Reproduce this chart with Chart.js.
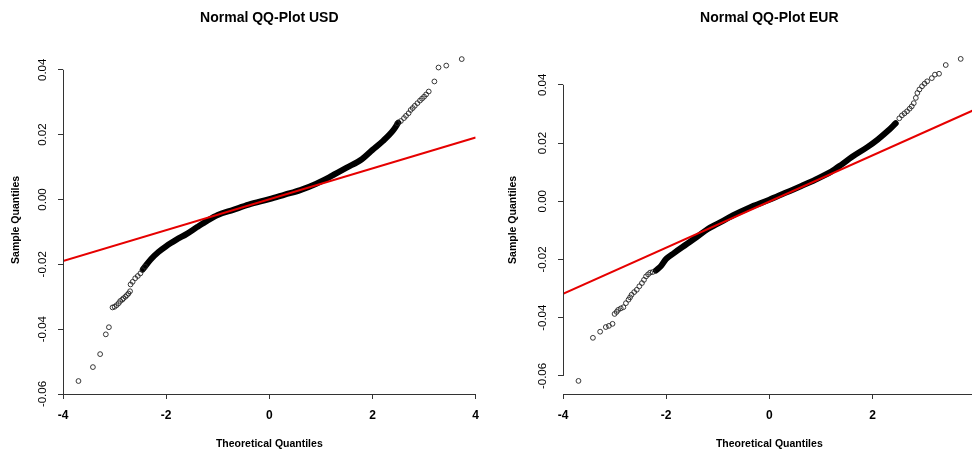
<!DOCTYPE html>
<html>
<head>
<meta charset="utf-8">
<title>Normal QQ-Plots</title>
<script src="https://cdn.jsdelivr.net/npm/chart.js@4.4.1/dist/chart.umd.min.js"></script>
<style>
  html, body { margin: 0; padding: 0; background: #fff; overflow: hidden; }
  #wrap { position: relative; width: 972px; height: 450px; overflow: hidden; }
  #usdBox { position: absolute; left: 0; top: 0; }
  #eurBox { position: absolute; left: 486px; top: 0; }
</style>
</head>
<body>
<div id="wrap">
  <div id="usdBox"><canvas id="usdChart" width="488" height="450"></canvas></div>
  <div id="eurBox"><canvas id="eurChart" width="502" height="450"></canvas></div>
</div>
<script>
// ---- tick labels ----
const xTicks = [-4, -2, 0, 2, 4];
const yTicks = [-0.06, -0.04, -0.02, 0, 0.02, 0.04];

// ---- USD: dense middle of the cloud (theoretical q, sample quantile) ----
const usdBodyQ = [-2.45, -2.3, -2.15, -2.0, -1.8, -1.6, -1.4, -1.2, -1.0, -0.7, -0.4, 0.0, 0.3, 0.6, 0.9, 1.2, 1.5, 1.8, 2.0, 2.2, 2.4, 2.5];
const usdBodyV = [-0.0215, -0.0185, -0.0162, -0.0144, -0.0124, -0.0106, -0.0085, -0.0065, -0.0048, -0.0032, -0.0016, 0.0001, 0.0015, 0.0029, 0.0048, 0.0072, 0.0098, 0.0125, 0.0153, 0.0180, 0.0213, 0.0237];
// ---- USD: single points in the tails ----
const usdTailQ = [-3.70, -3.42, -3.28, -3.17, -3.11, -3.04, -3.00, -2.96, -2.92, -2.89, -2.85, -2.83, -2.79, -2.76, -2.73, -2.70, -2.69, -2.65, -2.60, -2.55, -2.50, -2.46, -2.41,
                  2.48, 2.55, 2.61, 2.65, 2.70, 2.74, 2.78, 2.82, 2.87, 2.92, 2.96, 3.00, 3.04, 3.09, 3.20, 3.28, 3.43, 3.73];
const usdTailV = [-0.0560, -0.0517, -0.0477, -0.0416, -0.0394, -0.0333, -0.0331, -0.0326, -0.0320, -0.0313, -0.0309, -0.0305, -0.0300, -0.0295, -0.0290, -0.0283, -0.0262, -0.0254, -0.0243, -0.0236, -0.0228, -0.0218, -0.0207,
                  0.0235, 0.0242, 0.0251, 0.0258, 0.0266, 0.0276, 0.0282, 0.0289, 0.0297, 0.0305, 0.0311, 0.0317, 0.0324, 0.0333, 0.0364, 0.0407, 0.0413, 0.0433];
// ---- USD: reference line ----
const usdLineQ = [-4, 4];
const usdLineV = [-0.0190, 0.0191];

// ---- EUR: dense middle ----
const eurBodyQ = [-2.2, -2.1, -2.0, -1.85, -1.6, -1.4, -1.2, -1.0, -0.7, -0.4, 0.0, 0.3, 0.6, 0.9, 1.2, 1.4, 1.6, 1.9, 2.1, 2.3, 2.45];
const eurBodyV = [-0.0238, -0.0222, -0.0198, -0.0178, -0.0147, -0.0122, -0.0096, -0.0077, -0.0048, -0.0023, 0.0005, 0.0028, 0.0051, 0.0075, 0.0102, 0.0126, 0.0152, 0.0186, 0.0212, 0.0242, 0.0268];
// ---- EUR: tails ----
const eurTailQ = [-3.70, -3.42, -3.28, -3.17, -3.11, -3.04, -3.00, -2.96, -2.93, -2.88, -2.83, -2.78, -2.73, -2.70, -2.67, -2.62, -2.57, -2.52, -2.47, -2.43, -2.39, -2.35, -2.31, -2.26,
                  2.52, 2.57, 2.62, 2.67, 2.72, 2.76, 2.80, 2.84, 2.87, 2.91, 2.96, 3.01, 3.06, 3.15, 3.21, 3.29, 3.42, 3.71];
const eurTailV = [-0.0617, -0.0469, -0.0448, -0.0432, -0.0428, -0.0421, -0.0387, -0.0380, -0.0373, -0.0368, -0.0364, -0.0350, -0.0338, -0.0330, -0.0321, -0.0312, -0.0304, -0.0292, -0.0281, -0.0270, -0.0258, -0.0251, -0.0245, -0.0243,
                  0.0285, 0.0295, 0.0302, 0.0309, 0.0318, 0.0326, 0.0337, 0.0355, 0.0372, 0.0384, 0.0395, 0.0404, 0.0412, 0.0423, 0.0435, 0.0438, 0.0468, 0.0489];
// ---- EUR: reference line ----
const eurLineQ = [-4, 4];
const eurLineV = [-0.0318, 0.0316];

const toPoints = (qs, vs) => qs.map((q, i) => ({x: q, y: vs[i]}));

// R draws the y axis line only between the first and last tick
const rAxisLine = {
  id: 'rAxisLine',
  afterDraw(chart) {
    const y = chart.scales.y;
    const ctx = chart.ctx;
    const top = y.getPixelForValue(yTicks[yTicks.length - 1]);
    const bottom = y.getPixelForValue(yTicks[0]);
    ctx.save();
    ctx.strokeStyle = '#333';
    ctx.lineWidth = 1;
    ctx.beginPath();
    ctx.moveTo(chart.chartArea.left + 0.5, top);
    ctx.lineTo(chart.chartArea.left + 0.5, bottom);
    ctx.stroke();
    ctx.restore();
  }
};

function makeQQ(canvasId, opts) {
  return new Chart(document.getElementById(canvasId), {
    type: 'scatter',
    data: {
      datasets: [
        {
          // qqline
          data: toPoints(opts.lineQ, opts.lineV),
          showLine: true,
          borderColor: '#e60000',
          borderWidth: 2,
          pointRadius: 0,
          order: 0
        },
        {
          data: toPoints(opts.tailQ, opts.tailV),
          pointStyle: 'circle',
          pointRadius: 2.4,
          borderWidth: 0.9,
          borderColor: '#222',
          backgroundColor: 'rgba(0,0,0,0)',
          order: 1
        },
        {
          // the overlapping circles in the middle read as a thick black band
          data: toPoints(opts.bodyQ, opts.bodyV),
          showLine: true,
          borderColor: '#000',
          borderWidth: 6,
          borderCapStyle: 'round',
          borderJoinStyle: 'round',
          cubicInterpolationMode: 'monotone',
          pointRadius: 0,
          order: 2
        }
      ]
    },
    options: {
      responsive: false,
      animation: false,
      events: [],
      layout: { padding: 0 },
      plugins: {
        legend: { display: false },
        tooltip: { enabled: false },
        title: {
          display: true,
          text: opts.title,
          fullSize: false,
          color: '#000',
          font: { family: 'Liberation Sans, Arial, sans-serif', size: 14, weight: 'bold' },
          padding: { top: 10, bottom: 19 }
        }
      },
      scales: {
        x: {
          type: 'linear',
          min: -4,
          max: 4,
          afterFit: s => { s.height = 56; },
          afterBuildTicks: s => { s.ticks = xTicks.map(v => ({value: v})); },
          border: { display: true, color: '#333', width: 1 },
          grid: { drawOnChartArea: false, drawTicks: true, tickLength: 5, color: '#333' },
          ticks: {
            autoSkip: false,
            maxRotation: 0,
            padding: 9,
            color: '#000',
            font: { family: 'Liberation Sans, Arial, sans-serif', size: 12, weight: 'bold' }
          },
          title: {
            display: true,
            text: 'Theoretical Quantiles',
            color: '#000',
            padding: { top: 0, bottom: 0 },
            font: { family: 'Liberation Sans, Arial, sans-serif', size: 10.5, weight: 'bold' }
          }
        },
        y: {
          type: 'linear',
          min: opts.yMin,
          max: opts.yMax,
          afterFit: s => { s.width = opts.yWidth; },
          afterBuildTicks: s => { s.ticks = yTicks.map(v => ({value: v})); },
          border: { display: false },
          grid: { drawOnChartArea: false, drawTicks: true, tickLength: 5, color: '#333' },
          ticks: {
            autoSkip: false,
            minRotation: 90,
            maxRotation: 90,
            crossAlign: 'center',
            padding: 2,
            color: '#000',
            font: { family: 'Liberation Sans, Arial, sans-serif', size: 11.5 },
            callback: v => v.toFixed(2)
          },
          title: {
            display: true,
            text: 'Sample Quantiles',
            color: '#000',
            padding: { top: opts.yTitlePad, bottom: 0 },
            font: { family: 'Liberation Sans, Arial, sans-serif', size: 10.5, weight: 'bold' }
          }
        }
      }
    },
    plugins: [rAxisLine]
  });
}

document.addEventListener('DOMContentLoaded', function () {
  makeQQ('usdChart', {
    title: 'Normal QQ-Plot USD',
    bodyQ: usdBodyQ, bodyV: usdBodyV,
    tailQ: usdTailQ, tailV: usdTailV,
    lineQ: usdLineQ, lineV: usdLineV,
    yMin: -0.0600, yMax: 0.0474,
    yWidth: 63, yTitlePad: 10
  });
  makeQQ('eurChart', {
    title: 'Normal QQ-Plot EUR',
    bodyQ: eurBodyQ, bodyV: eurBodyV,
    tailQ: eurTailQ, tailV: eurTailV,
    lineQ: eurLineQ, lineV: eurLineV,
    yMin: -0.0662, yMax: 0.0534,
    yWidth: 77, yTitlePad: 21
  });
});
</script>
</body>
</html>
